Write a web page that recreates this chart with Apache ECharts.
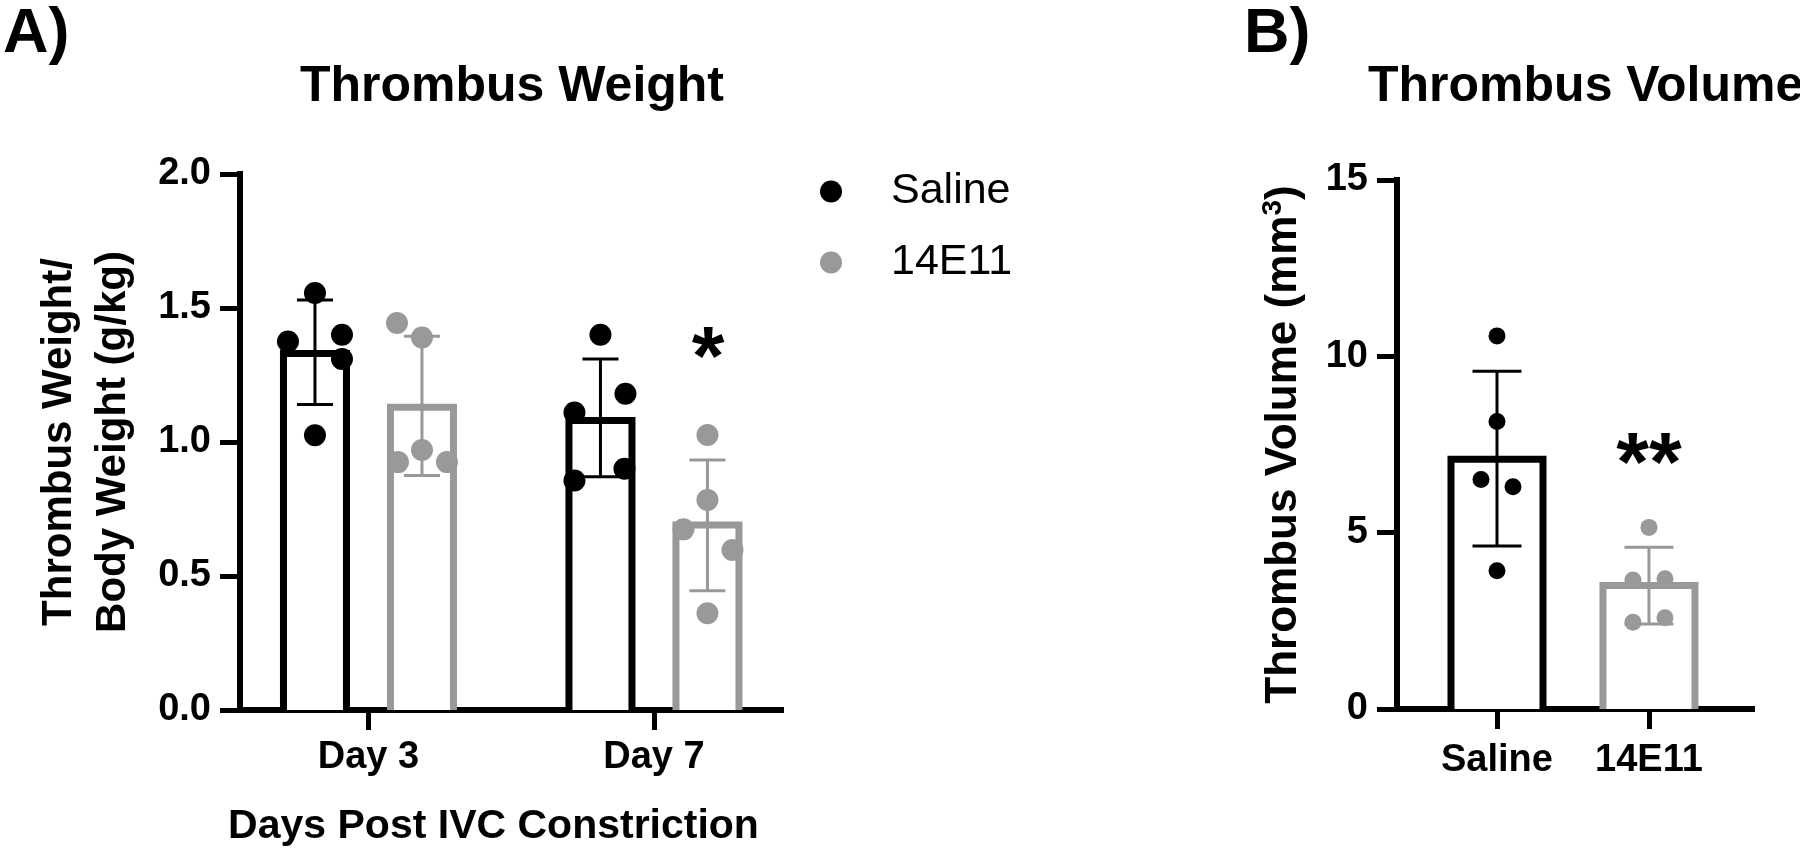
<!DOCTYPE html>
<html><head><meta charset="utf-8">
<script src="https://cdn.jsdelivr.net/npm/echarts@6/dist/echarts.min.js"></script>
<style>html,body{margin:0;padding:0;background:#fff}#c{width:1800px;height:854px}</style>
</head><body><div id="c"></div>
<script>
// ---------- data ----------
const weightCategories = ['Day 3', 'Day 7'];
const groupNames = ['Saline', '14E11'];
const weightTicks = [0, 0.5, 1.0, 1.5, 2.0];
const weightSalineMean = [1.33, 1.08];
const weightSalineSdLow = [1.14, 0.87];
const weightSalineSdHigh = [1.53, 1.31];
const weight14E11Mean = [1.13, 0.69];
const weight14E11SdLow = [0.875, 0.445];
const weight14E11SdHigh = [1.395, 0.933];
const weightSalinePoints = [[1.556, 1.375, 1.40, 1.31, 1.025], [1.40, 1.18, 1.11, 0.90, 0.856]];
const weight14E11Points = [[1.444, 1.39, 0.97, 0.925, 0.925], [1.026, 0.784, 0.674, 0.597, 0.361]];
const weightSignificance = ['', '*'];          // 14E11 vs Saline, per day

const volumeCategories = ['Saline', '14E11'];
const volumeTicks = [0, 5, 10, 15];
const volumeMean = [7.08, 3.5];
const volumeSdLow = [4.62, 2.41];
const volumeSdHigh = [9.58, 4.59];
const volumePoints = [[10.58, 8.15, 6.51, 6.30, 3.92], [5.15, 3.66, 3.69, 2.46, 2.59]];
const volumeSignificance = ['', '**'];

// ---------- layout / style ----------
const BLACK = '#000000', GRAY = '#999999';
const FONT = '"Liberation Sans", Arial, Helvetica, sans-serif';
const jitterWeightSaline = [[0, -27, 27, 27, 0], [0, 25, -26, 24, -26]];
const jitterWeight14E11 = [[-25, 0, 0, -24, 25], [0, 0, -24, 25, 0]];
const jitterVolume = [[0, 0, -16, 16, 0], [0, -16, 16, -16, 16]];

function barSeries(gi, cats, means, offsetPx, halfW, color) {
  return {
    type: 'custom', xAxisIndex: gi, yAxisIndex: gi, z: 2, silent: true,
    data: means.map((m, i) => [cats[i], m]),
    renderItem: (params, api) => {
      const top = api.coord([api.value(0), api.value(1)]);
      const base = api.coord([api.value(0), 0]);
      const cx = top[0] + offsetPx;
      return { type: 'group', children: [
        { type: 'rect', shape: { x: cx - halfW, y: top[1], width: 2 * halfW, height: base[1] - top[1] }, style: { fill: '#fff' } },
        { type: 'polyline', shape: { points: [[cx - halfW, base[1]], [cx - halfW, top[1]], [cx + halfW, top[1]], [cx + halfW, base[1]]] },
          style: { stroke: color, lineWidth: 7, fill: null, lineJoin: 'miter' } }
      ]};
    }
  };
}
function errSeries(gi, cats, lows, highs, offsetPx, capHalf, color) {
  return {
    type: 'custom', xAxisIndex: gi, yAxisIndex: gi, z: 3, silent: true,
    data: lows.map((l, i) => [cats[i], l, highs[i]]),
    renderItem: (params, api) => {
      const lo = api.coord([api.value(0), api.value(1)]);
      const hi = api.coord([api.value(0), api.value(2)]);
      const cx = lo[0] + offsetPx;
      const st = { stroke: color, lineWidth: 3 };
      return { type: 'group', children: [
        { type: 'line', shape: { x1: cx, y1: lo[1], x2: cx, y2: hi[1] }, style: st },
        { type: 'line', shape: { x1: cx - capHalf, y1: lo[1], x2: cx + capHalf, y2: lo[1] }, style: st },
        { type: 'line', shape: { x1: cx - capHalf, y1: hi[1], x2: cx + capHalf, y2: hi[1] }, style: st }
      ]};
    }
  };
}
function pointSeries(name, gi, cats, pts, offsetPx, jitter, color, size) {
  const data = [];
  pts.forEach((arr, i) => arr.forEach((v, j) => data.push({ value: [cats[i], v], symbolOffset: [offsetPx + jitter[i][j], 0] })));
  return { type: 'scatter', name, xAxisIndex: gi, yAxisIndex: gi, z: 4, symbol: 'circle', symbolSize: size,
    itemStyle: { color, opacity: 1 }, data, silent: true };
}
function xAxisCfg(gi, min, max, cats, labelMargin, extra) {
  return Object.assign({
    gridIndex: gi, type: 'value', min, max,
    axisLine: { show: true, onZero: false, lineStyle: { color: BLACK, width: 6, cap: 'square' } },
    axisTick: { show: true, customValues: cats.map((c, i) => i), length: 20, lineStyle: { color: BLACK, width: 5 } },
    axisLabel: { customValues: cats.map((c, i) => i), formatter: v => cats[Math.round(v)], margin: labelMargin,
      fontSize: 38, fontWeight: 'bold', color: BLACK, fontFamily: FONT },
    splitLine: { show: false }
  }, extra || {});
}
function yAxisCfg(gi, ticks, decimals, extra) {
  return Object.assign({
    gridIndex: gi, type: 'value', min: ticks[0], max: ticks[ticks.length - 1], interval: ticks[1] - ticks[0],
    axisLine: { show: true, onZero: false, lineStyle: { color: BLACK, width: 6, cap: 'square' } },
    axisTick: { show: true, length: 20, lineStyle: { color: BLACK, width: 5 } },
    axisLabel: { formatter: v => v.toFixed(decimals), margin: 29, fontSize: 38, fontWeight: 'bold', color: BLACK, fontFamily: FONT },
    splitLine: { show: false }
  }, extra || {});
}

const idx = arr => arr.map((c, i) => i);   // category index positions on the value x axes
const wCat = idx(weightCategories), vCat = idx(volumeCategories);

const chart = echarts.init(document.getElementById('c'), null, { renderer: 'canvas' });
chart.setOption({
  backgroundColor: '#fff',
  animation: false,
  textStyle: { fontFamily: FONT },
  grid: [
    { left: 240, right: 1800 - 781, top: 174, bottom: 854 - 710 },
    { left: 1397, right: 1800 - 1752, top: 180, bottom: 854 - 709 }
  ],
  xAxis: [
    xAxisCfg(0, -0.45, 1.445, weightCategories, 29, {
      name: 'Days Post IVC Constriction', nameLocation: 'middle', nameGap: 96,
      nameTextStyle: { fontSize: 41, fontWeight: 'bold', color: BLACK, fontFamily: FONT, padding: [0, 34, 0, 0] } }),
    xAxisCfg(1, -0.658, 1.678, volumeCategories, 33)
  ],
  yAxis: [
    yAxisCfg(0, weightTicks, 1, {
      name: 'Thrombus Weight/\nBody Weight (g/kg)', nameLocation: 'middle', nameGap: 100,
      nameTextStyle: { fontSize: 42, fontWeight: 'bold', color: BLACK, fontFamily: FONT, lineHeight: 54 } }),
    yAxisCfg(1, volumeTicks, 0, {
      name: 'Thrombus Volume (mm{sup|3})', nameLocation: 'middle', nameGap: 88,
      nameTextStyle: { fontSize: 44, fontWeight: 'bold', color: BLACK, fontFamily: FONT, lineHeight: 50,
        rich: { sup: { fontSize: 28, fontWeight: 'bold', color: BLACK, fontFamily: FONT, verticalAlign: 'top', lineHeight: 50, padding: [0, 0, 22, 0] } } } })
  ],
  legend: {
    data: [{ name: groupNames[0], icon: 'circle' }, { name: groupNames[1], icon: 'circle' }],
    orient: 'vertical', left: 815, top: 165, itemWidth: 110, itemHeight: 22, itemGap: 28,
    textStyle: { fontSize: 43, color: BLACK, fontFamily: FONT }, selectedMode: false
  },
  graphic: [
    { type: 'text', x: 3, y: 3, style: { text: 'A)', font: 'bold 63px ' + FONT, fill: BLACK } },
    { type: 'text', x: 1244, y: 3, style: { text: 'B)', font: 'bold 63px ' + FONT, fill: BLACK } },
    { type: 'text', x: 512, y: 87, style: { text: 'Thrombus Weight', font: 'bold 50px ' + FONT, fill: BLACK, align: 'center', verticalAlign: 'middle' } },
    { type: 'text', x: 1368, y: 87, style: { text: 'Thrombus Volume', font: 'bold 50px ' + FONT, fill: BLACK, align: 'left', verticalAlign: 'middle' } },
    { type: 'text', x: 708, y: 362, style: { text: weightSignificance[1], font: 'bold 84px ' + FONT, fill: BLACK, align: 'center', verticalAlign: 'middle' } },
    { type: 'text', x: 1649, y: 468, style: { text: volumeSignificance[1], font: 'bold 84px ' + FONT, fill: BLACK, align: 'center', verticalAlign: 'middle' } }
  ],
  series: [
    barSeries(0, wCat, weightSalineMean, -53.5, 31.5, BLACK),
    barSeries(0, wCat, weight14E11Mean, 53.5, 31.5, GRAY),
    errSeries(0, wCat, weightSalineSdLow, weightSalineSdHigh, -53.5, 18, BLACK),
    errSeries(0, wCat, weight14E11SdLow, weight14E11SdHigh, 53.5, 18, GRAY),
    pointSeries(groupNames[0], 0, wCat, weightSalinePoints, -53.5, jitterWeightSaline, BLACK, 22),
    pointSeries(groupNames[1], 0, wCat, weight14E11Points, 53.5, jitterWeight14E11, GRAY, 22),
    barSeries(1, [vCat[0]], [volumeMean[0]], 0, 46, BLACK),
    barSeries(1, [vCat[1]], [volumeMean[1]], 0, 46, GRAY),
    errSeries(1, [vCat[0]], [volumeSdLow[0]], [volumeSdHigh[0]], 0, 24.5, BLACK),
    errSeries(1, [vCat[1]], [volumeSdLow[1]], [volumeSdHigh[1]], 0, 24.5, GRAY),
    pointSeries(groupNames[0], 1, [vCat[0]], [volumePoints[0]], 0, [jitterVolume[0]], BLACK, 17),
    pointSeries(groupNames[1], 1, [vCat[1]], [volumePoints[1]], 0, [jitterVolume[1]], GRAY, 17)
  ]
});
</script></body></html>
